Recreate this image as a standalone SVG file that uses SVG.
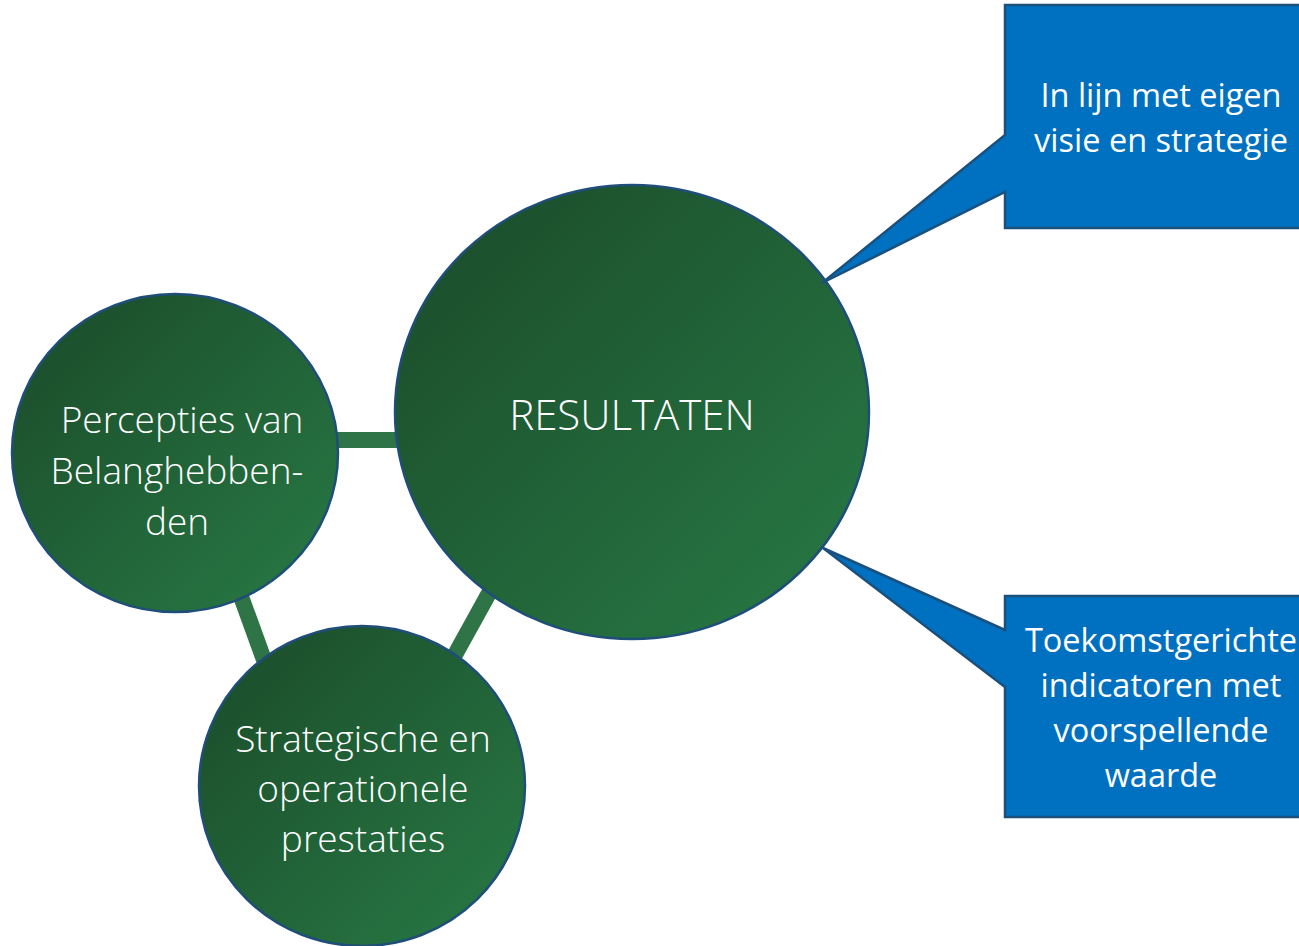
<svg xmlns="http://www.w3.org/2000/svg" width="1299" height="946" viewBox="0 0 1299 946">
<defs>
<linearGradient id="g" x1="0" y1="0" x2="1" y2="1">
<stop offset="0" stop-color="#1a4a29"/>
<stop offset="1" stop-color="#287a45"/>
</linearGradient>
<style>
.c{fill:url(#g);stroke:#1f4e79;stroke-width:2.5}
.l{stroke:#2f7446;stroke-width:16;fill:none}
.b{fill:#0070c0;stroke:#1b507c;stroke-width:2.5}
.t{fill:#ffffff;font-family:"Open Sans","Liberation Sans",sans-serif;text-anchor:middle}
.tl{font-weight:300}
</style>
</defs>
<rect width="1299" height="946" fill="#ffffff"/>
<g id="connectors">
<line class="l" x1="320" y1="440" x2="410" y2="440"/>
<line class="l" x1="214" y1="522" x2="272" y2="682"/>
<line class="l" x1="520" y1="537" x2="430" y2="700"/>
</g>
<g id="resultaten">
<ellipse class="c" cx="632" cy="412" rx="237" ry="227"/>
<text class="t tl" x="632" y="430" font-size="42">RESULTATEN</text>
</g>
<g id="percepties">
<ellipse class="c" cx="175" cy="453" rx="163" ry="159"/>
<text class="t tl" font-size="37"><tspan x="182" y="433">Percepties van</tspan><tspan x="177" y="484">Belanghebben-</tspan><tspan x="177" y="535">den</tspan></text>
</g>
<g id="prestaties">
<ellipse class="c" cx="362" cy="786" rx="163" ry="160"/>
<text class="t tl" font-size="37"><tspan x="363" y="752">Strategische en</tspan><tspan x="363" y="802">operationele</tspan><tspan x="363" y="852">prestaties</tspan></text>
</g>
<g id="callout-visie">
<path class="b" d="M1005,5 H1310 V228 H1005 V192 L822,283 L1005,135 Z"/>
<text class="t" font-size="32.5"><tspan x="1161" y="107">In lijn met eigen</tspan><tspan x="1161" y="152">visie en strategie</tspan></text>
</g>
<g id="callout-toekomst">
<path class="b" d="M1005,596 H1310 V817 H1005 V687 L823,548 L1005,630 Z"/>
<text class="t" font-size="32.5"><tspan x="1161" y="652">Toekomstgerichte</tspan><tspan x="1161" y="697">indicatoren met</tspan><tspan x="1161" y="742">voorspellende</tspan><tspan x="1161" y="787">waarde</tspan></text>
</g>
</svg>
